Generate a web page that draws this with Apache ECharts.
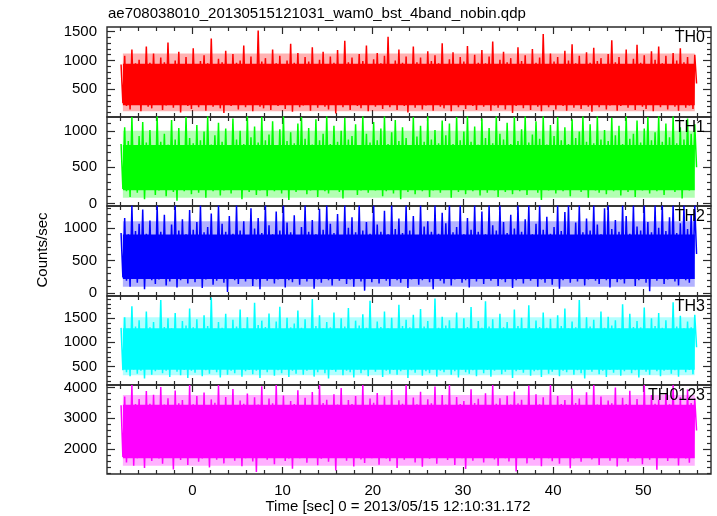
<!DOCTYPE html>
<html><head><meta charset="utf-8">
<script src="https://cdn.jsdelivr.net/npm/echarts@6/dist/echarts.min.js"></script>
<style>html,body{margin:0;padding:0;background:#fff}#c{width:717px;height:516px}</style>
</head><body><div id="c"></div>
<script>
const chartTitle = "ae708038010_20130515121031_wam0_bst_4band_nobin.qdp";
const xTitle = "Time [sec] 0 = 2013/05/15 12:10:31.172";
const yTitle = "Counts/sec";
const panelNames = ["TH0", "TH1", "TH2", "TH3", "TH0123"];
const panelColors = ["#ff0000", "#00ff00", "#0000ff", "#00ffff", "#ff00ff"];

// time bins (sec): values alternate bin max / bin min
const binStart = -7.9;
const binSize = 0.2;

// x axis
const xRange = [-9.46, 57.5];
const xMajorTicks = [0, 10, 20, 30, 40, 50];
const xMinorStep = 2;

// y axes per panel
const yRanges = [[20, 1580], [-33, 1190], [-42, 1333], [116, 1961], [1185, 4078]];
const yMajorTicks = [[500, 1000, 1500], [0, 500, 1000], [0, 500, 1000], [500, 1000, 1500], [2000, 3000, 4000]];
const yMinorSteps = [100, 100, 100, 100, 200];

// densely filled core of each light curve (where every time bin overlaps)
const coreLow = [224, 182, 218, 432, 1697];
const coreHigh = [943, 805, 897, 1293, 3436];
// partially filled fringe around the core
const fringeLow = [120, 80, 100, 320, 1450];
const fringeHigh = [1120, 1000, 1100, 1520, 3750];

const th0 = [
930,260,1080,210,910,150,1190,280,950,230,1010,120,890,270,1240,200,960,170,1120,250,
900,290,1050,140,970,220,1310,260,920,180,1000,240,1150,100,880,270,1060,210,940,160,
1210,250,910,190,990,280,1090,130,950,230,1380,200,890,260,1030,170,970,90,1170,240,
920,210,1110,270,960,150,1000,230,1260,190,900,280,1070,120,940,250,1520,200,980,170,
1040,260,890,140,1190,230,950,210,1080,280,920,160,1000,240,1290,110,960,270,1130,190,
910,220,1060,250,980,130,1230,280,940,180,1010,240,1150,200,890,150,1070,260,960,80,
1180,230,920,190,1340,270,970,140,1050,250,900,210,1110,170,990,280,1260,120,930,240,
1020,200,1130,260,950,160,1080,230,1410,190,910,270,1000,140,1190,250,960,210,1070,100,
900,280,1240,180,970,240,1050,150,930,220,1160,270,990,130,1090,250,950,200,1300,170,
940,260,1020,120,1140,230,910,190,1060,280,980,160,1250,240,920,210,1100,140,960,270,
1180,200,950,250,1070,130,1330,220,900,180,1010,270,1150,150,970,240,1040,90,920,210,
1230,260,990,170,1090,230,940,140,1200,280,960,200,1050,120,1460,250,910,190,1120,260,
980,150,1060,240,930,210,1170,130,1000,270,1280,180,950,230,1080,160,920,250,1140,200,
960,110,1220,270,990,190,1040,240,910,150,1110,220,1350,260,970,130,1060,210,940,280,
1190,180,920,250,1030,140,1270,230,960,200,1090,160,940,270,1160,120,1010,240,1240,190,
950,230,1080,150,920,260,1130,200,1000,130,1210,250,970,180,1060,220,940,160,1100,600
];
const th1 = [
820,200,1050,170,860,90,1190,220,800,150,930,210,1120,60,840,190,1010,230,790,120,
1200,180,850,210,960,100,810,230,1150,160,880,40,1040,200,790,170,1190,220,900,130,
830,190,1080,150,870,220,990,80,1200,200,810,170,940,230,1110,110,850,180,1030,210,
790,140,1170,220,880,190,1000,60,820,230,1200,160,910,200,1060,120,840,180,1190,230,
870,100,950,210,1130,170,800,230,1020,140,1200,190,860,50,980,220,830,160,1100,200,
1190,230,890,130,1040,180,810,210,1160,90,870,220,960,170,1200,140,820,200,1070,230,
850,160,1000,70,1180,210,880,190,930,230,1090,120,800,180,1200,200,960,150,840,220,
1120,180,870,230,1030,100,1200,170,820,210,980,140,1150,190,860,60,1050,220,900,160,
800,230,1190,130,920,200,1070,170,850,220,1200,90,880,180,1010,210,830,150,1140,230,
940,190,1100,80,820,220,1190,160,870,200,990,130,1200,210,850,170,1060,230,810,110,
1170,200,900,150,1040,220,830,180,1200,90,960,230,880,160,1110,200,820,130,1190,210,
860,170,1020,230,1200,120,840,190,950,210,1130,150,890,50,1200,220,810,180,1080,200,
930,140,1190,210,870,170,1050,230,820,100,1160,190,900,220,990,160,1200,200,850,80,
1090,220,830,180,1200,150,880,210,1010,130,860,230,1180,170,940,200,1070,110,820,190,
1200,160,890,230,960,90,1140,200,840,180,1030,220,1190,140,870,210,980,170,1200,230,
850,120,1100,200,910,190,1200,160,830,220,1050,70,880,210,1170,180,960,230,1090,500
];
const th2 = [
920,240,1150,190,900,100,1340,250,950,160,1060,220,1280,60,910,230,1110,200,890,140,
1340,210,940,250,1200,120,880,180,1050,230,1340,90,960,200,1130,250,900,150,1270,220,
970,170,1090,240,1340,80,930,210,1010,250,1220,130,890,190,1340,230,1060,160,940,20,
1180,250,910,200,1340,140,960,230,1100,180,880,240,1300,110,990,210,1150,60,920,250,
1340,190,1040,230,900,150,1250,210,960,250,1340,90,1080,200,930,170,1190,240,880,130,
1010,220,1340,180,940,250,1120,70,900,210,1290,160,970,240,1340,200,1060,120,920,230,
1210,190,890,250,1340,140,1000,210,1160,100,930,230,1340,180,960,40,1090,250,910,170,
1340,220,1050,150,940,240,1260,190,900,110,1340,230,980,200,1140,160,920,250,1340,80,
960,210,1180,240,890,130,1340,200,1020,250,1100,170,940,60,1340,230,910,190,1230,150,
1070,250,1340,120,930,210,1010,240,1340,160,900,200,1150,90,970,250,1340,180,940,220,
1250,140,900,230,1340,190,1040,250,960,110,1340,210,1090,170,920,240,1200,80,990,200,
1340,250,940,150,1130,220,1340,190,900,240,1060,100,1340,210,970,160,1170,250,910,130,
1010,230,1340,70,950,200,1240,250,1340,160,890,220,1080,180,1340,240,930,120,1140,210,
960,250,1340,190,1050,140,900,230,1300,200,1340,90,980,250,1120,170,940,210,1340,150,
1180,220,910,250,1340,110,1020,200,960,240,1340,160,1090,30,930,230,1340,190,1000,250,
1340,140,950,210,1160,250,1340,180,920,120,1070,230,1340,200,980,160,1210,240,1340,600
];
const th3 = [
1300,420,1520,380,1280,300,1750,440,1330,350,1460,410,1260,250,1640,450,1310,330,1420,400,
1270,440,1880,360,1320,410,1500,280,1290,450,1610,390,1260,320,1440,430,1350,260,1700,410,
1310,370,1480,450,1250,300,1560,420,1340,350,1930,440,1280,380,1420,270,1300,460,1590,330,
1260,410,1470,360,1330,450,1680,290,1290,400,1520,430,1270,340,1820,410,1360,260,1450,440,
1320,380,1600,450,1280,310,1430,420,1740,360,1260,440,1510,280,1310,410,1390,350,1660,460,
1300,330,1480,410,1270,440,1900,290,1340,380,1560,450,1290,360,1420,250,1310,430,1620,390,
1280,450,1500,320,1330,410,1710,380,1260,270,1450,440,1350,360,1580,420,1300,300,1860,450,
1270,390,1430,460,1320,280,1640,410,1290,350,1510,430,1260,330,1780,400,1340,440,1470,260,
1310,420,1570,370,1280,450,1690,310,1330,400,1440,360,1270,440,1910,290,1300,410,1530,380,
1350,450,1460,330,1290,400,1620,270,1260,440,1500,380,1320,350,1730,420,1280,300,1440,460,
1300,360,1850,430,1330,290,1480,410,1270,450,1590,340,1310,390,1420,440,1260,260,1680,400,
1340,430,1510,370,1290,450,1770,310,1280,400,1450,420,1320,280,1620,450,1300,350,1490,390,
1260,440,1560,300,1340,410,1700,380,1290,450,1430,330,1310,420,1880,360,1270,250,1520,440,
1330,390,1470,450,1280,340,1640,410,1300,280,1530,430,1350,370,1460,440,1290,310,1790,400,
1270,450,1590,360,1320,420,1440,270,1310,440,1720,390,1280,330,1500,450,1340,400,1610,300,
1300,410,1460,440,1260,350,1830,420,1330,290,1550,450,1290,380,1430,430,1310,340,1570,900
];
const th0123 = [
3420,1740,3700,1560,3380,1790,4080,1450,3460,1700,3620,1800,3350,1380,3880,1720,3470,1610,3760,1780,
3400,1690,4010,1520,3440,1760,3650,1800,3370,1330,3900,1710,3480,1640,3590,1790,3360,1480,4080,1730,
3450,1800,3720,1580,3390,1690,3830,1760,3410,1400,3610,1740,3500,1650,4080,1790,3380,1530,3690,1710,
3430,1770,3950,1620,3360,1800,3570,1440,3470,1700,3800,1760,3400,1590,3680,1250,3440,1790,4040,1720,
3390,1650,3640,1780,3480,1500,4080,1730,3370,1800,3740,1610,3420,1690,3560,1360,3460,1770,3910,1700,
3350,1790,3660,1550,3430,1720,3850,1800,3400,1470,4080,1680,3490,1760,3600,1580,3380,1740,3780,1300,
3440,1710,3980,1800,3370,1620,3590,1750,3460,1430,3720,1790,3410,1660,4080,1540,3390,1770,3640,1700,
3500,1760,3820,1490,3380,1800,3700,1690,3430,1600,3920,1740,3360,1380,3580,1780,3470,1650,4080,1720,
3410,1800,3670,1560,3450,1730,3860,1420,3390,1790,3610,1680,3480,1760,4030,1520,3370,1710,3750,1800,
3440,1640,4080,1750,3400,1480,3690,1800,3460,1700,3560,1350,3380,1770,3940,1620,3490,1730,3630,1790,
3360,1560,3810,1720,3420,1800,4080,1660,3470,1450,3650,1760,3390,1700,3730,1590,3440,1800,3870,1270,
3480,1740,3600,1790,3370,1530,4060,1710,3410,1650,3780,1800,3450,1440,3680,1760,3390,1700,4080,1600,
3430,1790,3720,1520,3460,1740,3590,1800,3380,1370,3960,1690,3490,1770,3640,1580,3400,1730,3840,1800,
3370,1660,4080,1750,3440,1480,3700,1790,3410,1710,3570,1620,3480,1800,4000,1430,3390,1760,3660,1700,
3460,1580,3890,1800,3360,1690,3620,1740,3430,1500,4080,1780,3400,1650,3750,1720,3470,1320,3600,1790,
3380,1740,3810,1610,3450,1800,4080,1700,3420,1460,3680,1770,3370,1690,3930,1550,3490,1780,3640,2600
];
const panelData = [th0, th1, th2, th3, th0123];

// layout
const gridTops = [27, 117, 206, 296, 385];
const gridHeights = [90, 89, 90, 89, 89];
const gridLeft = 107, gridRight = 6;
const axisColor = '#2a2a2a';
const FONT = '"Liberation Sans", Arial, Helvetica, sans-serif';

function minorList(lo, hi, step, majors) {
  const out = [];
  const start = Math.ceil(lo / step) * step;
  for (let v = start; v <= hi + 1e-9; v += step) {
    const r = Math.round(v * 1000) / 1000;
    if (majors.indexOf(r) < 0 && r > lo && r < hi) out.push(r);
  }
  return out;
}

const grids = [], xAxes = [], yAxes = [], series = [];
const xMinorTicks = minorList(xRange[0], xRange[1], xMinorStep, xMajorTicks);

panelNames.forEach((name, i) => {
  grids.push({left: gridLeft, right: gridRight, top: gridTops[i], height: gridHeights[i],
    show: true, borderColor: axisColor, borderWidth: 1.4, backgroundColor: 'transparent'});
  const isLast = i === panelNames.length - 1;
  const xDefs = [
    {pos: 'bottom', ticks: xMajorTicks, len: 7, label: isLast},
    {pos: 'bottom', ticks: xMinorTicks, len: 4, label: false},
    {pos: 'top', ticks: xMajorTicks, len: 7, label: false},
    {pos: 'top', ticks: xMinorTicks, len: 4, label: false}
  ];
  xDefs.forEach(d => {
    xAxes.push({
      type: 'value', gridIndex: i, position: d.pos, min: xRange[0], max: xRange[1],
      axisLine: {show: false, onZero: false}, splitLine: {show: false},
      axisTick: {show: true, inside: true, length: d.len, customValues: d.ticks,
        lineStyle: {color: axisColor, width: 1.2}},
      axisLabel: d.label ? {show: true, customValues: xMajorTicks, margin: 9,
        formatter: v => String(v),
        color: '#000', fontSize: 15, fontFamily: FONT} : {show: false}
    });
  });
  const yr = yRanges[i];
  const yMin = minorList(yr[0], yr[1], yMinorSteps[i], yMajorTicks[i]);
  const yDefs = [
    {pos: 'left', ticks: yMajorTicks[i], len: 8, label: true},
    {pos: 'left', ticks: yMin, len: 4, label: false},
    {pos: 'right', ticks: yMajorTicks[i], len: 8, label: false},
    {pos: 'right', ticks: yMin, len: 4, label: false}
  ];
  yDefs.forEach(d => {
    yAxes.push({
      type: 'value', gridIndex: i, position: d.pos, min: yr[0], max: yr[1],
      axisLine: {show: false, onZero: false}, splitLine: {show: false},
      axisTick: {show: true, inside: true, length: d.len, customValues: d.ticks,
        lineStyle: {color: axisColor, width: 1.2}},
      axisLabel: d.label ? {show: true, customValues: yMajorTicks[i], margin: 10,
        formatter: v => String(v),
        color: '#000', fontSize: 15, fontFamily: FONT} : {show: false}
    });
  });
  const tEnd = binStart + (panelData[i].length - 1) * binSize;
  series.push({
    type: 'line', name: name, xAxisIndex: i * 4, yAxisIndex: i * 4,
    data: panelData[i].map((v, k) => [binStart + k * binSize, v]),
    showSymbol: false, symbol: 'none', silent: true, clip: true,
    lineStyle: {color: panelColors[i], width: 1.5},
    itemStyle: {color: panelColors[i]}, z: 2,
    markArea: {
      silent: true, itemStyle: {color: panelColors[i], opacity: 1},
      data: [
        [{coord: [binStart + binSize, fringeLow[i]], itemStyle: {color: panelColors[i], opacity: 0.3}},
         {coord: [tEnd - binSize, fringeHigh[i]]}],
        [{coord: [binStart + binSize, coreLow[i]], itemStyle: {color: panelColors[i], opacity: 1}},
         {coord: [tEnd - binSize, coreHigh[i]]}]
      ]
    }
  });
});

const graphics = [
  {type: 'text', left: 108, top: 6, style: {text: chartTitle, font: '15px ' + FONT, fill: '#000'}},
  {type: 'text', x: 398, y: 507, style: {text: xTitle, font: '15px ' + FONT, fill: '#000', align: 'center', verticalAlign: 'middle'}},
  {type: 'text', x: 43, y: 250, rotation: Math.PI / 2, style: {text: yTitle, font: '15px ' + FONT, fill: '#000', align: 'center', verticalAlign: 'middle'}}
];
panelNames.forEach((name, i) => {
  graphics.push({type: 'text', x: 705, y: gridTops[i] + 11, z: 100,
    style: {text: name, font: '16px ' + FONT, fill: '#000', align: 'right', verticalAlign: 'middle'}});
});

const chart = echarts.init(document.getElementById('c'), null, {renderer: 'canvas'});
chart.setOption({
  animation: false,
  backgroundColor: '#fff',
  grid: grids, xAxis: xAxes, yAxis: yAxes, series: series, graphic: graphics
});
</script></body></html>
